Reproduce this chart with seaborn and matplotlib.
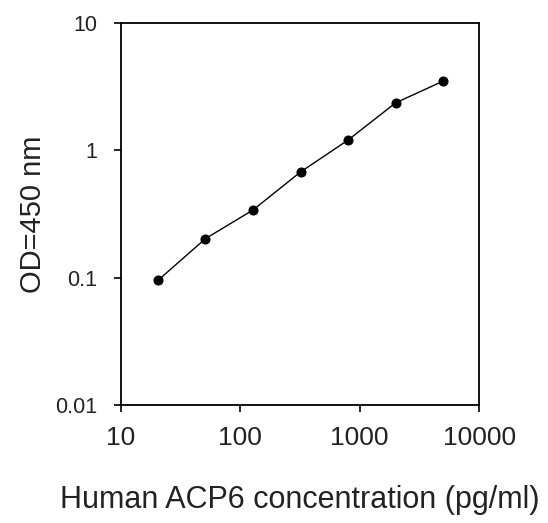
import numpy as np
import pandas as pd
import seaborn as sns
import matplotlib.pyplot as plt
from matplotlib.ticker import FixedLocator, FixedFormatter, NullLocator

# standard curve values
concentration = [20.48, 51.2, 128, 320, 800, 2000, 5000]
od_450 = [0.095, 0.202, 0.339, 0.674, 1.20, 2.35, 3.48]

x_ticks = [10, 100, 1000, 10000]
x_labels = ['10', '100', '1000', '10000']
y_ticks = [0.01, 0.1, 1, 10]
y_labels = ['0.01', '0.1', '1', '10']

df = pd.DataFrame({'conc': concentration, 'od': od_450})

sns.set_style('ticks')
plt.rcParams['font.family'] = ['Liberation Sans', 'DejaVu Sans']

fig = plt.figure(figsize=(5.48, 5.23), dpi=100)
ax = fig.add_axes([0.2203, 0.2256, 0.654, 0.731])

sns.lineplot(data=df, x='conc', y='od', ax=ax, color='black', linewidth=1.0,
             marker='o', markersize=6.5, markeredgecolor='black')

ax.set_xscale('log')
ax.set_yscale('log')
ax.set_xlim(10, 10000)
ax.set_ylim(0.01, 10)

ax.xaxis.set_major_locator(FixedLocator(x_ticks))
ax.xaxis.set_major_formatter(FixedFormatter(x_labels))
ax.yaxis.set_major_locator(FixedLocator(y_ticks))
ax.yaxis.set_major_formatter(FixedFormatter(y_labels))
ax.xaxis.set_minor_locator(NullLocator())
ax.yaxis.set_minor_locator(NullLocator())

for s in ax.spines.values():
    s.set_visible(True)
    s.set_linewidth(1.3)
    s.set_color('black')

ax.tick_params(axis='x', direction='out', length=5, width=1.2, pad=10,
               labelsize=19)
ax.tick_params(axis='y', direction='out', length=5, width=1.2, pad=12,
               labelsize=15.5)
ax.tick_params(colors='black', which='both', labelcolor='#222222')

ax.set_xlabel('Human ACP6 concentration (pg/ml)', fontsize=22, labelpad=25,
              color='#222222')
ax.set_ylabel('OD=450 nm', fontsize=21, labelpad=6, color='#222222')

fig.savefig('out.png', dpi=100)
